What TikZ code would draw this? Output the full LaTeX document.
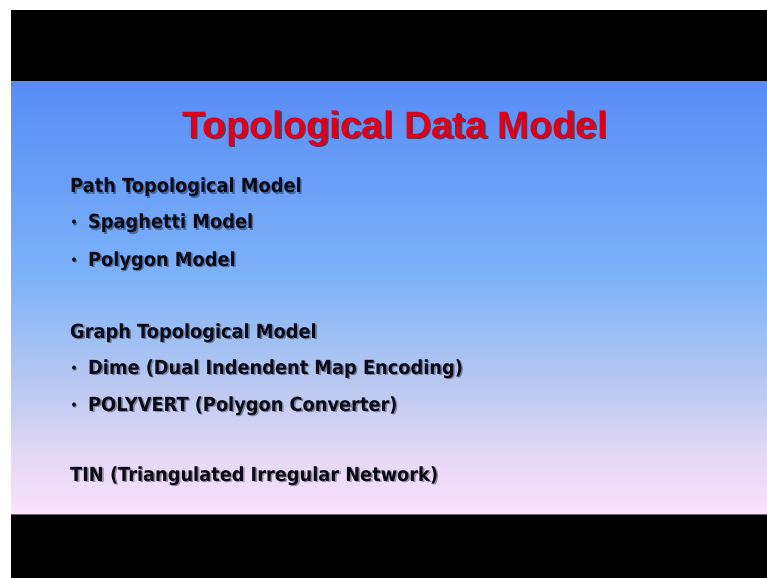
\documentclass[tikz,border=0pt]{standalone}
\usepackage{fontspec}
\setmainfont{Liberation Sans}
\newfontfamily\bodyfont{DejaVu Sans}[FakeStretch=0.915]
\definecolor{bgtop}{RGB}{88,140,245}
\definecolor{bgmid}{RGB}{125,178,248}
\definecolor{bglav}{RGB}{185,200,240}
\definecolor{bgpale}{RGB}{225,215,245}
\definecolor{bgbot}{RGB}{250,226,250}
\definecolor{titlered}{RGB}{222,0,22}
\definecolor{inkdark}{RGB}{10,10,25}
\pgfdeclareverticalshading{slidebg}{100bp}{%
  color(0bp)=(bgbot); color(25bp)=(bgbot); color(32.5bp)=(bgpale);
  color(40bp)=(bglav); color(52.5bp)=(bgmid); color(75bp)=(bgtop);
  color(100bp)=(bgtop)}
\tikzset{
  titletext/.style={inner sep=0pt, anchor=base, font=\fontsize{38.3}{44}\selectfont\bfseries},
  bodytext/.style={inner sep=0pt, anchor=base west, text=inkdark,
    font=\bodyfont\fontsize{19.5}{22}\selectfont\bfseries},
  shadowtext/.style={text=black, opacity=0.35},
  bulletmark/.style={inner sep=0pt, anchor=base, text=inkdark,
    font=\bodyfont\fontsize{12}{14}\selectfont\bfseries},
}
% one line of body text with its drop shadow
\newcommand{\slideline}[4]{%
  \node[bodytext, shadowtext] (#1s) at ([shift={(1.6,1.6)}]#2,#3) {#4};
  \node[bodytext] (#1) at (#2,#3) {#4};}
\newcommand{\slidebullet}[3]{%
  \node[bulletmark, shadowtext] (#1s) at ([shift={(1.2,1.2)}]#2,#3) {•};
  \node[bulletmark] (#1) at (#2,#3) {•};}
\begin{document}
\begin{tikzpicture}[x=1bp,y=-1bp]
\useasboundingbox (0,0) rectangle (767,578);
\fill[white] (0,0) rectangle (767,578);
\fill[black] (11,10) rectangle (767,578);
\shade[shading=slidebg] (11,82) rectangle (767,514);
\draw[black!55!bgbot, line width=1.2bp] (11,514.5) -- (767,514.5);

% title with its shadow
\node[titletext, text=black!70!red, opacity=0.6] (titles) at (396.5,139.5) {Topological Data Model};
\node[titletext, text=titlered] (title) at (395,138.5) {Topological Data Model};

% path topology
\slideline{path}{70}{193}{Path Topological Model}
\slidebullet{b1}{74}{227}
\slideline{spag}{88}{229}{Spaghetti Model}
\slidebullet{b2}{74}{264}
\slideline{poly}{88}{266}{Polygon Model}

% graph topology
\slideline{graph}{70}{338}{Graph Topological Model}
\slidebullet{b3}{74}{372}
\slideline{dime}{88}{374}{Dime (Dual Indendent Map Encoding)}
\slidebullet{b4}{74}{409}
\slideline{pvert}{88}{411}{POLYVERT (Polygon Converter)}

% triangulated network
\slideline{tin}{70}{481}{TIN (Triangulated Irregular Network)}
\end{tikzpicture}
\end{document}
